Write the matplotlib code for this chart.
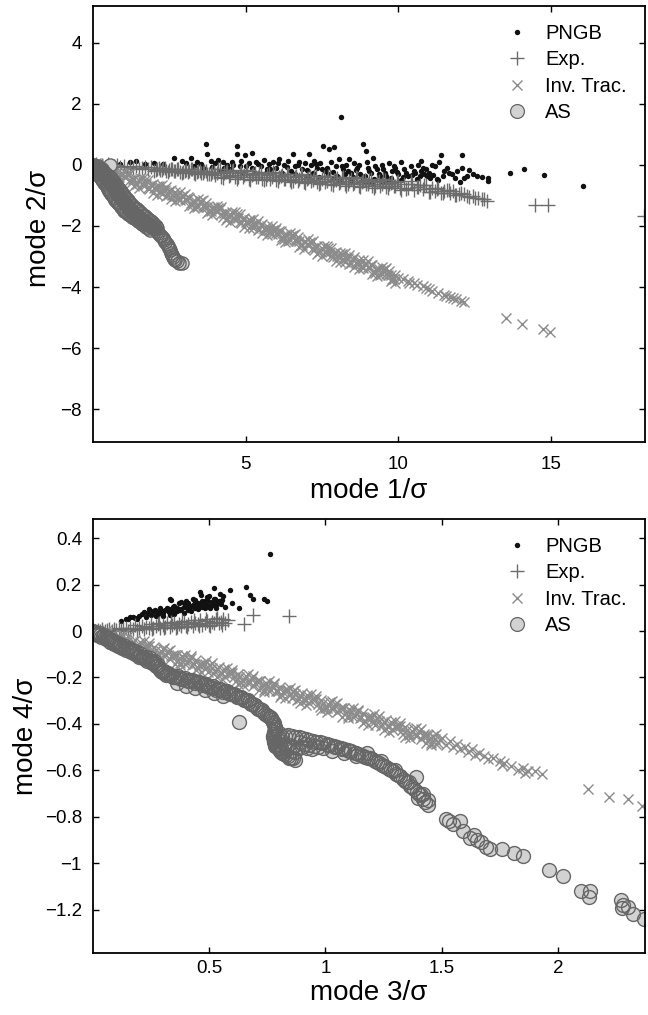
import matplotlib
matplotlib.use("Agg")
import matplotlib.pyplot as plt
from matplotlib.lines import Line2D

plt.rcParams['font.family'] = ['Liberation Sans', 'DejaVu Sans']

# ================= TOP PANEL DATA (mode 1 vs mode 2) =================
pngb1_x = [0.6, 0.9, 1.2, 1.4, 1.7, 2.0, 2.3, 2.66, 2.9, 3.05, 3.21, 3.4, 3.55, 3.70, 3.75, 3.85, 4.0, 4.1,
           4.25, 4.4, 4.55, 4.72, 4.72, 4.85, 4.99, 5.1, 5.22, 5.35, 5.5, 5.6, 5.75, 5.9, 6.0, 6.1, 6.25, 6.4,
           6.54, 6.6, 6.75, 6.85, 6.95, 7.09, 7.15, 7.25, 7.35, 7.45, 7.54, 7.6, 7.73, 7.8, 7.89, 7.95, 8.05,
           8.12, 8.2, 8.3, 8.4, 8.45, 8.55, 8.65, 8.75, 8.85, 8.94, 8.98, 9.05, 9.18, 9.25, 9.35, 9.45, 9.5,
           9.6, 9.7, 9.8, 9.9, 10.0, 10.09, 10.2, 10.3, 10.4, 10.5, 10.55, 10.65, 10.73, 10.8, 10.95, 11.05,
           11.1, 11.2, 11.32, 11.40, 11.5, 11.60, 11.75, 11.91, 12.02, 12.07, 12.07, 12.16, 12.43, 12.59,
           12.95, 12.95, 13.66, 14.12, 14.77, 16.06, 7.2, 7.7, 8.0, 8.5, 8.9, 9.2, 9.65, 10.1, 6.5, 6.2, 5.8,
           5.2, 4.8, 7.5, 8.35, 9.0, 10.6, 11.3, 11.0, 10.85,
           4.3, 4.6, 5.0, 5.4, 5.7, 6.05, 6.35, 6.7, 7.0, 7.3, 7.65, 7.85, 8.15, 8.25, 8.6, 8.7, 8.8, 9.1,
           9.3, 9.4, 9.55, 9.75, 9.85, 9.95, 10.15, 10.25, 10.45, 10.7, 10.75, 10.9, 11.15, 11.25, 11.45,
           11.65, 11.85, 12.25, 12.3, 12.75, 3.3, 3.6, 3.9, 4.15, 4.5, 4.9, 5.3, 5.65, 6.15, 6.6, 7.05, 7.4,
           7.9, 8.1, 8.45, 8.95, 9.15, 9.45]
pngb1_y = [0.05, 0.02, 0.08, 0.12, 0.04, 0.07, 0.02, 0.24, 0.14, 0.05, 0.21, 0.10, 0.03, 0.68, 0.36, 0.12, 0.05,
           0.15, 0.08, -0.02, 0.10, 0.62, 0.35, 0.12, 0.33, 0.05, 0.40, 0.10, -0.05, 0.15, 0.02, 0.08, -0.10,
           0.20, 0.00, 0.12, 0.36, -0.05, 0.10, -0.15, 0.05, 0.36, -0.02, 0.12, -0.10, 0.05, 0.63, -0.20, 0.52,
           0.10, 0.58, -0.05, 0.18, 1.58, -0.15, 0.00, 0.20, -0.25, 0.05, -0.10, -0.30, 0.69, 0.47, 0.10,
           -0.20, 0.21, -0.05, -0.30, 0.00, -0.15, -0.35, 0.05, -0.20, -0.10, -0.30, 0.09, -0.15, -0.35, -0.05,
           -0.21, -0.28, 0.00, 0.14, -0.10, -0.38, -0.42, 0.00, -0.05, 0.08, 0.33, -0.20, -0.11, -0.30, -0.19,
           -0.55, 0.33, -0.09, -0.44, -0.29, -0.35, -0.44, -0.52, -0.25, -0.13, -0.33, -0.69, -0.25, -0.30,
           -0.35, -0.40, -0.35, -0.45, -0.50, -0.50, -0.20, -0.25, -0.15, -0.10, -0.05, -0.15, -0.20, -0.10,
           -0.45, -0.50, -0.25, -0.30,
           -0.10, 0.00, -0.05, 0.02, -0.12, 0.05, -0.08, -0.02, -0.18, 0.02, -0.10, -0.22, -0.05, -0.30, -0.18,
           -0.02, -0.40, -0.28, -0.12, -0.38, -0.25, -0.42, -0.05, -0.22, -0.40, -0.25, -0.32, -0.38, -0.20,
           -0.15, -0.32, -0.45, -0.38, -0.25, -0.42, -0.35, -0.18, -0.40, -0.05, -0.10, -0.08, -0.20, -0.12,
           -0.22, -0.25, -0.28, -0.32, -0.30, -0.35, -0.40, -0.42, -0.50, -0.48, -0.55, -0.60, -0.55]

exp1_x = [0.1, 0.2, 0.3, 0.4, 0.5, 0.6, 0.7, 0.8, 0.9, 1.0, 1.1, 1.2, 1.3, 1.4, 1.5, 1.6, 1.7, 1.8, 1.9, 2.0,
          2.1, 2.2, 2.3, 2.4, 2.5, 2.6, 2.7, 2.8, 2.9, 3.0, 3.1, 3.2, 3.3, 3.4, 3.5, 3.6, 3.7, 3.8, 3.9, 4.0,
          4.1, 4.2, 4.3, 4.4, 4.5, 4.6, 4.7, 4.8, 4.9, 5.0, 5.1, 5.2, 5.3, 5.4, 5.5, 5.6, 5.7, 5.8, 5.9, 6.0,
          6.1, 6.2, 6.3, 6.4, 6.5, 6.6, 6.7, 6.8, 6.9, 7.0, 7.1, 7.2, 7.3, 7.4, 7.5, 7.6, 7.7, 7.8, 7.9, 8.0,
          8.1, 8.2, 8.3, 8.4, 8.5, 8.6, 8.7, 8.8, 8.9, 9.0, 9.1, 9.2, 9.3, 9.4, 9.5, 9.6, 9.7, 9.8, 9.9,
          10.0, 10.1, 10.2, 10.3, 10.4, 10.5, 10.6, 10.7, 10.8, 10.9, 11.0, 11.1, 11.2, 11.3, 11.4, 11.5,
          11.6, 11.7, 11.8, 11.9, 12.0, 12.15, 12.3, 12.45, 12.6, 12.75, 12.9, 14.49, 14.89, 18.05,
          2.05, 2.15, 2.25, 2.35, 2.45, 2.55, 2.65, 2.75, 2.85, 2.95, 3.05, 3.15, 3.25, 3.35, 3.45, 3.55,
          3.65, 3.75, 3.85, 3.95, 4.05, 4.15, 4.25, 4.35, 4.45, 4.55, 4.65, 4.75, 4.85, 4.95, 5.05, 5.15,
          5.25, 5.35, 5.45, 5.55, 5.65, 5.75, 5.85, 5.95, 6.05, 6.15, 6.25, 6.35, 6.45, 6.55, 6.65, 6.75,
          6.85, 6.95, 7.05, 7.15, 7.25, 7.35, 7.45, 7.55, 7.65, 7.75, 7.85, 7.95, 8.05, 8.15, 8.25, 8.35,
          8.45, 8.55, 8.65, 8.75, 8.85, 8.95, 9.05, 9.15, 9.25, 9.35, 9.45, 9.55, 9.65, 9.75, 9.85, 9.95,
          10.05, 10.25, 10.45, 10.65, 10.85, 11.05, 11.25, 11.45, 11.65, 11.85, 12.05, 12.25, 12.5, 12.8]
exp1_y = [0.03, -0.07, -0.01, -0.06, 0.03, -0.09, -0.05, -0.02, -0.08, -0.03, -0.13, -0.07, -0.11, -0.03,
          -0.15, -0.10, -0.08, -0.14, -0.08, -0.19, -0.13, -0.17, -0.09, -0.21, -0.16, -0.14, -0.20, -0.14,
          -0.25, -0.19, -0.23, -0.15, -0.26, -0.22, -0.20, -0.25, -0.20, -0.31, -0.24, -0.34, -0.12, -0.39,
          -0.28, -0.21, -0.33, -0.18, -0.46, -0.28, -0.40, -0.18, -0.45, -0.34, -0.26, -0.39, -0.24, -0.51,
          -0.34, -0.46, -0.23, -0.51, -0.40, -0.32, -0.45, -0.30, -0.57, -0.40, -0.52, -0.29, -0.57, -0.46,
          -0.38, -0.51, -0.35, -0.63, -0.46, -0.57, -0.35, -0.63, -0.51, -0.44, -0.57, -0.41, -0.69, -0.52,
          -0.63, -0.41, -0.69, -0.57, -0.50, -0.63, -0.47, -0.75, -0.57, -0.69, -0.47, -0.74, -0.63, -0.56,
          -0.68, -0.53, -0.81, -0.64, -0.76, -0.54, -0.82, -0.72, -0.65, -0.79, -0.66, -0.88, -0.77, -0.87,
          -0.75, -0.93, -0.86, -0.83, -0.93, -0.85, -0.98, -0.95, -0.94, -1.05, -1.02, -1.10, -1.12, -1.17,
          -1.32, -1.32, -1.68,
          -0.18, -0.10, -0.16, -0.09, -0.23, -0.15, -0.20, -0.13, -0.23, -0.24, -0.16, -0.21, -0.15, -0.29,
          -0.20, -0.26, -0.19, -0.29, -0.30, -0.22, -0.28, -0.14, -0.42, -0.24, -0.35, -0.20, -0.39, -0.41,
          -0.24, -0.34, -0.20, -0.48, -0.30, -0.41, -0.25, -0.45, -0.47, -0.29, -0.40, -0.26, -0.53, -0.36,
          -0.47, -0.31, -0.51, -0.53, -0.35, -0.46, -0.32, -0.59, -0.42, -0.52, -0.37, -0.57, -0.58, -0.41,
          -0.52, -0.37, -0.65, -0.48, -0.58, -0.43, -0.63, -0.64, -0.47, -0.58, -0.43, -0.71, -0.54, -0.64,
          -0.49, -0.69, -0.70, -0.53, -0.63, -0.49, -0.77, -0.59, -0.70, -0.55, -0.75, -0.78, -0.62, -0.74,
          -0.65, -0.89, -0.78, -0.91, -0.83, -0.97, -0.93, -1.03, -1.07, -1.12]

inv1_x = [0.1, 0.2, 0.3, 0.4, 0.5, 0.6, 0.7, 0.8, 0.9, 1.0, 1.1, 1.2, 1.3, 1.4, 1.5, 1.6, 1.7, 1.8, 1.9, 2.0,
          2.1, 2.2, 2.3, 2.4, 2.5, 2.6, 2.7, 2.8, 2.9, 3.0, 3.1, 3.2, 3.3, 3.4, 3.5, 3.6, 3.7, 3.8, 3.9, 4.0,
          4.1, 4.2, 4.3, 4.4, 4.5, 4.6, 4.7, 4.8, 4.9, 5.0, 5.1, 5.2, 5.3, 5.4, 5.5, 5.6, 5.7, 5.8, 5.9, 6.0,
          6.1, 6.2, 6.3, 6.4, 6.5, 6.6, 6.7, 6.8, 6.9, 7.0, 7.1, 7.2, 7.3, 7.4, 7.5, 7.6, 7.7, 7.8, 7.9, 8.0,
          8.1, 8.2, 8.3, 8.4, 8.5, 8.6, 8.7, 8.8, 8.9, 9.0, 9.1, 9.2, 9.3, 9.4, 9.5, 9.6, 9.7, 9.8, 9.9,
          10.0, 10.15, 10.3, 10.35, 10.5, 10.6, 10.8, 10.9, 11.0, 11.1, 11.3, 11.5, 11.55, 11.7, 11.8, 11.9,
          12.05, 12.15, 13.51, 14.05, 14.73, 14.96,
          0.05, 0.15, 0.25, 0.35, 0.45, 0.55, 0.65, 0.75, 0.85, 0.95, 1.05, 1.15, 1.25, 1.35, 1.45, 1.55,
          1.65, 1.75, 1.85, 1.95, 2.05, 2.15, 2.25, 2.35, 2.45, 2.55, 2.65, 2.75, 2.85, 2.95, 3.05, 3.15,
          3.25, 3.35, 3.45, 3.55, 3.65, 3.75, 3.85, 3.95, 4.05, 4.15, 4.25, 4.35, 4.45, 4.55, 4.65, 4.75,
          4.85, 4.95, 5.05, 5.15, 5.25, 5.35, 5.45, 5.55, 5.65, 5.75, 5.85, 5.95, 6.05, 6.15, 6.25, 6.35,
          6.45, 6.55, 6.65, 6.75, 6.85, 6.95, 7.05, 7.15, 7.25, 7.35, 7.45, 7.55, 7.65, 7.75, 7.85, 7.95,
          8.05, 8.15, 8.25, 8.35, 8.45, 8.55, 8.65, 8.75, 8.85, 8.95, 9.05, 9.15, 9.25, 9.35, 9.45, 9.55,
          9.65, 9.75, 9.85,
          0.6, 0.9, 1.2, 1.5, 1.8, 2.1, 2.4, 2.7, 3.0, 3.3, 3.6, 3.9, 4.2, 4.5, 4.8, 5.1, 5.4, 5.7, 6.0,
          6.3, 6.6, 6.9, 7.2, 7.5, 7.8, 8.1, 8.4, 8.7, 9.0, 9.3, 9.6, 9.9,
          0.75, 1.05, 1.35, 1.65, 1.95, 2.25, 2.55, 2.85, 3.15, 3.45, 3.75, 4.05, 4.35, 4.65, 4.95, 5.25,
          5.55, 5.85, 6.15, 6.45, 6.75, 7.05, 7.35, 7.65, 7.95, 8.25, 8.55, 8.85, 9.15, 9.45, 9.75]
inv1_y = [0.06, -0.13, -0.09, -0.27, -0.12, -0.25, -0.14, -0.39, -0.29, -0.38, -0.31, -0.50, -0.46, -0.64,
          -0.49, -0.62, -0.51, -0.76, -0.66, -0.75, -0.68, -0.87, -0.83, -1.01, -0.86, -0.99, -0.88, -1.13,
          -1.03, -1.12, -1.05, -1.24, -1.20, -1.38, -1.23, -1.36, -1.25, -1.50, -1.40, -1.49, -1.42, -1.61,
          -1.57, -1.75, -1.60, -1.73, -1.62, -1.87, -1.77, -1.86, -1.79, -1.98, -1.94, -2.12, -1.97, -2.10,
          -1.99, -2.24, -2.14, -2.23, -2.16, -2.35, -2.31, -2.49, -2.34, -2.47, -2.36, -2.61, -2.51, -2.60,
          -2.53, -2.72, -2.68, -2.86, -2.71, -2.84, -2.73, -2.98, -2.88, -2.97, -2.90, -3.09, -3.05, -3.23,
          -3.08, -3.21, -3.10, -3.35, -3.25, -3.34, -3.27, -3.46, -3.42, -3.60, -3.45, -3.58, -3.47, -3.72,
          -3.62, -3.70, -3.72, -3.80, -3.85, -3.86, -3.93, -3.98, -4.04, -4.06, -4.12, -4.18, -4.27, -4.30,
          -4.33, -4.36, -4.40, -4.44, -4.49, -5.00, -5.20, -5.36, -5.47,
          -0.04, 0.04, -0.21, -0.08, -0.24, -0.07, -0.28, -0.27, -0.41, -0.27, -0.41, -0.33, -0.58, -0.45,
          -0.61, -0.44, -0.65, -0.64, -0.78, -0.64, -0.78, -0.70, -0.95, -0.82, -0.98, -0.81, -1.02, -1.01,
          -1.15, -1.01, -1.15, -1.07, -1.32, -1.19, -1.35, -1.18, -1.39, -1.38, -1.52, -1.38, -1.52, -1.44,
          -1.69, -1.56, -1.72, -1.55, -1.76, -1.75, -1.89, -1.75, -1.89, -1.81, -2.06, -1.93, -2.09, -1.92,
          -2.13, -2.12, -2.26, -2.12, -2.26, -2.18, -2.43, -2.30, -2.46, -2.29, -2.50, -2.49, -2.63, -2.49,
          -2.63, -2.55, -2.80, -2.67, -2.83, -2.66, -2.87, -2.86, -3.00, -2.86, -3.00, -2.92, -3.17, -3.04,
          -3.20, -3.03, -3.24, -3.23, -3.37, -3.23, -3.37, -3.29, -3.54, -3.41, -3.57, -3.40, -3.61, -3.60,
          -3.74,
          -0.05, -0.52, -0.27, -0.75, -0.50, -0.97, -0.72, -1.19, -0.94, -1.41, -1.16, -1.63, -1.38, -1.86,
          -1.61, -2.08, -1.83, -2.30, -2.05, -2.52, -2.27, -2.74, -2.49, -2.97, -2.72, -3.19, -2.94, -3.41,
          -3.16, -3.63, -3.38, -3.85,
          -0.45, -0.22, -0.69, -0.44, -0.91, -0.66, -1.13, -0.88, -1.36, -1.11, -1.58, -1.33, -1.80, -1.55,
          -2.02, -1.77, -2.24, -1.99, -2.47, -2.22, -2.69, -2.44, -2.91, -2.66, -3.13, -2.88, -3.35, -3.10,
          -3.58, -3.33, -3.80]

as1_x = [0.00, 0.04, 0.08, 0.12, 0.16, 0.20, 0.24, 0.28, 0.32, 0.36, 0.40, 0.44, 0.48, 0.52, 0.56, 0.60,
         0.63, 0.67, 0.71, 0.74, 0.78, 0.81, 0.85, 0.89, 0.93, 0.97, 1.01, 1.05, 1.10, 1.14, 1.19, 1.23,
         1.28, 1.33, 1.38, 1.43, 1.48, 1.54, 1.60, 1.66, 1.72, 1.78, 1.84, 1.90, 1.96, 2.02,
         0.02, 0.06, 0.10, 0.14, 0.18, 0.22, 0.26, 0.30, 0.34, 0.38, 0.42, 0.46, 0.50, 0.54, 0.58, 0.615,
         0.65, 0.69, 0.725, 0.76, 0.795, 0.83, 0.87, 0.91, 0.95, 0.99, 1.03, 1.075, 1.12, 1.165, 1.21,
         1.255, 1.305, 1.355, 1.405, 1.455, 1.51, 1.57, 1.63, 1.69, 1.75, 1.81, 1.87, 1.93, 1.99,
         0.05, 0.13, 0.21, 0.29, 0.37, 0.45, 0.52, 0.60, 0.68, 0.77, 0.87, 0.97, 1.08, 1.20, 1.33, 1.46,
         1.60, 1.74, 1.88,
         0.09, 0.17, 0.25, 0.33, 0.41, 0.485, 0.56, 0.64, 0.725, 0.82, 0.92, 1.025, 1.14, 1.265, 1.395,
         1.53, 1.67, 1.81,
         0.16, 0.28, 0.40, 0.52, 0.63, 0.73, 0.83, 0.93, 1.03, 1.14, 1.25, 1.37, 1.50, 1.63, 1.76, 1.89,
         2.01, 2.10,
         0.22, 0.34, 0.46, 0.575, 0.68, 0.78, 0.88, 0.98, 1.085, 1.195, 1.31, 1.435, 1.565, 1.695, 1.825,
         1.95, 2.055,
         2.08, 2.14, 2.19, 2.24, 2.28, 2.33, 2.37, 2.41, 2.45, 2.49, 2.52, 2.55, 2.58, 2.61, 2.65, 2.70,
         2.76, 2.83, 2.90, 0.55]
as1_y = [0.00, -0.03, -0.07, -0.10, -0.14, -0.18, -0.22, -0.27, -0.31, -0.36, -0.40, -0.44, -0.48, -0.52,
         -0.56, -0.61, -0.66, -0.72, -0.78, -0.84, -0.90, -0.95, -1.00, -1.05, -1.10, -1.15, -1.20, -1.25,
         -1.31, -1.37, -1.43, -1.48, -1.54, -1.59, -1.64, -1.68, -1.72, -1.76, -1.80, -1.84, -1.88, -1.92,
         -1.97, -2.01, -2.06, -2.10,
         -0.015, -0.05, -0.085, -0.12, -0.16, -0.20, -0.245, -0.29, -0.335, -0.38, -0.42, -0.46, -0.50,
         -0.54, -0.585, -0.635, -0.69, -0.75, -0.81, -0.87, -0.925, -0.975, -1.025, -1.075, -1.125, -1.175,
         -1.225, -1.28, -1.34, -1.40, -1.455, -1.51, -1.565, -1.615, -1.66, -1.70, -1.74, -1.78, -1.82,
         -1.86, -1.90, -1.945, -1.99, -2.035, -2.08,
         -0.12, -0.24, -0.36, -0.48, -0.60, -0.72, -0.84, -0.96, -1.08, -1.20, -1.32, -1.44, -1.55, -1.65,
         -1.74, -1.83, -1.93, -2.03, -2.12,
         -0.18, -0.30, -0.42, -0.54, -0.66, -0.78, -0.90, -1.02, -1.14, -1.26, -1.38, -1.495, -1.60, -1.695,
         -1.785, -1.88, -1.98, -2.075,
         -0.04, -0.14, -0.26, -0.38, -0.50, -0.63, -0.76, -0.89, -1.02, -1.15, -1.28, -1.40, -1.52, -1.63,
         -1.74, -1.85, -1.96, -2.06,
         -0.09, -0.20, -0.32, -0.44, -0.565, -0.695, -0.825, -0.955, -1.085, -1.215, -1.34, -1.46, -1.575,
         -1.685, -1.795, -1.905, -2.01,
         -2.16, -2.22, -2.28, -2.34, -2.40, -2.46, -2.52, -2.59, -2.66, -2.73, -2.80, -2.87, -2.94, -3.01,
         -3.07, -3.12, -3.16, -3.20, -3.22, -0.02]

# ================= BOTTOM PANEL DATA (mode 3 vs mode 4) =================
pngb2_x = [0.12, 0.15, 0.16, 0.18, 0.2, 0.22, 0.23, 0.25, 0.26, 0.28, 0.29, 0.3, 0.31, 0.33, 0.335, 0.34,
           0.35, 0.36, 0.37, 0.38, 0.39, 0.4, 0.41, 0.42, 0.43, 0.44, 0.45, 0.46, 0.465, 0.47, 0.48, 0.49,
           0.5, 0.51, 0.52, 0.52, 0.53, 0.54, 0.55, 0.56, 0.57, 0.59, 0.6, 0.63, 0.66, 0.675, 0.69, 0.735,
           0.75, 0.76, 0.24, 0.27, 0.32, 0.35, 0.38, 0.41, 0.44, 0.47, 0.5, 0.53, 0.545, 0.48, 0.45, 0.42,
           0.39, 0.36, 0.33, 0.30, 0.27, 0.19,
           0.14, 0.17, 0.21, 0.235, 0.265, 0.295, 0.325, 0.345, 0.375, 0.395, 0.415, 0.435, 0.455, 0.475,
           0.495, 0.515, 0.535, 0.555, 0.505, 0.525, 0.485, 0.445, 0.405, 0.365, 0.325, 0.285]
pngb2_y = [0.045, 0.050, 0.059, 0.055, 0.065, 0.083, 0.060, 0.070, 0.085, 0.075, 0.100, 0.080, 0.090, 0.138,
           0.134, 0.090, 0.110, 0.085, 0.120, 0.095, 0.105, 0.130, 0.090, 0.110, 0.140, 0.100, 0.120, 0.170,
           0.155, 0.105, 0.130, 0.145, 0.110, 0.125, 0.185, 0.140, 0.100, 0.130, 0.115, 0.150, 0.105, 0.177,
           0.120, 0.100, 0.190, 0.155, 0.140, 0.140, 0.130, 0.330, 0.095, 0.065, 0.100, 0.075, 0.125, 0.120,
           0.135, 0.130, 0.150, 0.120, 0.160, 0.100, 0.095, 0.085, 0.080, 0.100, 0.070, 0.065, 0.070, 0.050,
           0.052, 0.062, 0.072, 0.078, 0.090, 0.088, 0.095, 0.105, 0.090, 0.115, 0.100, 0.118, 0.108, 0.118,
           0.128, 0.112, 0.118, 0.135, 0.100, 0.138, 0.112, 0.112, 0.100, 0.094, 0.082, 0.082]

exp2_x = [0.00, 0.01, 0.02, 0.03, 0.04, 0.05, 0.06, 0.07, 0.08, 0.09, 0.10, 0.11, 0.12, 0.13, 0.14, 0.15,
          0.16, 0.17, 0.18, 0.19, 0.20, 0.21, 0.22, 0.23, 0.24, 0.25, 0.26, 0.27, 0.28, 0.29, 0.30, 0.31,
          0.32, 0.33, 0.34, 0.35, 0.36, 0.37, 0.38, 0.39, 0.40, 0.41, 0.42, 0.43, 0.44, 0.45, 0.46, 0.47,
          0.48, 0.49, 0.50, 0.51, 0.52, 0.53, 0.54, 0.55, 0.56, 0.57, 0.58, 0.65, 0.69, 0.843,
          0.255, 0.305, 0.355, 0.405, 0.455, 0.505, 0.555, 0.285, 0.335, 0.385, 0.435, 0.485, 0.535]
exp2_y = [0.004, -0.004, 0.003, 0.000, 0.009, 0.000, 0.005, 0.009, 0.001, 0.008, 0.005, 0.014, 0.005, 0.010,
          0.015, 0.001, 0.014, 0.008, 0.025, 0.006, 0.015, 0.024, 0.007, 0.019, 0.013, 0.030, 0.012, 0.020,
          0.029, 0.012, 0.025, 0.018, 0.035, 0.017, 0.026, 0.034, 0.017, 0.030, 0.024, 0.040, 0.022, 0.031,
          0.040, 0.022, 0.035, 0.029, 0.046, 0.027, 0.036, 0.045, 0.028, 0.040, 0.034, 0.051, 0.033, 0.041,
          0.050, 0.033, 0.046, 0.029, 0.069, 0.066,
          0.008, 0.012, 0.014, 0.016, 0.020, 0.022, 0.026, 0.036, 0.040, 0.045, 0.048, 0.052, 0.055]

inv2_x = [0.000, 0.015, 0.030, 0.045, 0.060, 0.075, 0.090, 0.105, 0.120, 0.135, 0.150, 0.165, 0.180, 0.195,
          0.210, 0.225, 0.240, 0.255, 0.270, 0.285, 0.300, 0.315, 0.330, 0.345, 0.360, 0.375, 0.390, 0.405,
          0.420, 0.435, 0.450, 0.465, 0.480, 0.495, 0.510, 0.525, 0.540, 0.555, 0.570, 0.585, 0.600, 0.615,
          0.630, 0.645, 0.660, 0.675, 0.690, 0.705, 0.720, 0.735, 0.750, 0.765, 0.780, 0.795, 0.810, 0.825,
          0.840, 0.855, 0.870, 0.885, 0.900, 0.915, 0.930, 0.945, 0.960, 0.975, 0.990, 1.005, 1.020, 1.035,
          1.050, 1.065, 1.080, 1.095, 1.110, 1.125, 1.140, 1.155, 1.170, 1.185, 1.200, 1.215, 1.230, 1.245,
          1.260, 1.275, 1.290, 1.305, 1.320, 1.335, 1.350, 1.365, 1.380, 1.395, 1.410, 1.425, 1.440, 1.455,
          1.470, 1.485, 1.500, 1.52, 1.535, 1.55, 1.565, 1.58, 1.60, 1.615, 1.63, 1.645, 1.66, 1.68, 1.70,
          1.72, 1.75, 1.76, 1.77, 1.80, 1.83, 1.85, 1.86, 1.87, 1.90, 1.93, 2.13, 2.22, 2.30, 2.36,
          0.0075, 0.0225, 0.0375, 0.0525, 0.0675, 0.0825, 0.0975, 0.1125, 0.1275, 0.1425, 0.1575, 0.1725,
          0.1875, 0.2025, 0.2175, 0.2325, 0.2475, 0.2625, 0.2775, 0.2925, 0.3075, 0.3225, 0.3375, 0.3525,
          0.3675, 0.3825, 0.3975, 0.4125, 0.4275, 0.4425, 0.4575, 0.4725, 0.4875, 0.5025, 0.5175, 0.5325,
          0.5475, 0.5625, 0.5775, 0.5925, 0.6075, 0.6225, 0.6375, 0.6525, 0.6675, 0.6825, 0.6975, 0.7125,
          0.7275, 0.7425, 0.7575, 0.7725, 0.7875, 0.8025, 0.8175, 0.8325, 0.8475, 0.8625, 0.8775, 0.8925,
          0.9075, 0.9225, 0.9375, 0.9525, 0.9675, 0.9825, 0.9975, 1.0125, 1.0275, 1.0425, 1.0575, 1.0725,
          1.0875, 1.1025, 1.1175, 1.1325, 1.1475, 1.1625, 1.1775, 1.1925, 1.2075, 1.2225, 1.2375, 1.2525,
          1.2675, 1.2825, 1.2975, 1.3125, 1.3275, 1.3425, 1.3575, 1.3725, 1.3875, 1.4025, 1.4175, 1.4325,
          1.4475, 1.4625, 1.4775, 1.4925,
          0.060, 0.105, 0.150, 0.195, 0.240, 0.285, 0.330, 0.375, 0.420, 0.465, 0.510, 0.555, 0.600, 0.645,
          0.690, 0.735, 0.780, 0.825, 0.870, 0.915, 0.960, 1.005, 1.050, 1.095, 1.140, 1.185, 1.230, 1.275,
          1.320, 1.365, 1.410, 1.455,
          0.0825, 0.1275, 0.1725, 0.2175, 0.2625, 0.3075, 0.3525, 0.3975, 0.4425, 0.4875, 0.5325, 0.5775,
          0.6225, 0.6675, 0.7125, 0.7575, 0.8025, 0.8475, 0.8925, 0.9375, 0.9825, 1.0275, 1.0725, 1.1175,
          1.1625, 1.2075, 1.2525, 1.2975, 1.3425, 1.3875, 1.4325, 1.4775]
inv2_y = [0.006, -0.014, -0.008, -0.019, -0.010, -0.026, -0.037, -0.029, -0.032, -0.052, -0.044, -0.062,
          -0.039, -0.066, -0.083, -0.064, -0.064, -0.099, -0.082, -0.101, -0.077, -0.104, -0.121, -0.102,
          -0.102, -0.137, -0.120, -0.139, -0.116, -0.142, -0.159, -0.140, -0.141, -0.175, -0.158, -0.177,
          -0.154, -0.181, -0.197, -0.178, -0.179, -0.214, -0.196, -0.215, -0.192, -0.219, -0.235, -0.216,
          -0.217, -0.252, -0.235, -0.253, -0.230, -0.257, -0.274, -0.254, -0.255, -0.290, -0.273, -0.291,
          -0.268, -0.295, -0.312, -0.293, -0.293, -0.328, -0.311, -0.330, -0.306, -0.333, -0.350, -0.331,
          -0.331, -0.366, -0.349, -0.368, -0.345, -0.371, -0.388, -0.369, -0.370, -0.404, -0.387, -0.406,
          -0.383, -0.409, -0.426, -0.407, -0.408, -0.443, -0.425, -0.444, -0.421, -0.448, -0.464, -0.445,
          -0.446, -0.481, -0.464, -0.482, -0.459, -0.490, -0.475, -0.500, -0.485, -0.510, -0.500, -0.520,
          -0.510, -0.535, -0.525, -0.540, -0.550, -0.545, -0.560, -0.575, -0.570, -0.580, -0.600, -0.590,
          -0.610, -0.605, -0.605, -0.615, -0.680, -0.717, -0.725, -0.754,
          -0.005, 0.000, -0.020, -0.014, -0.026, -0.018, -0.032, -0.031, -0.044, -0.038, -0.066, -0.049,
          -0.070, -0.048, -0.071, -0.064, -0.085, -0.070, -0.104, -0.087, -0.108, -0.087, -0.109, -0.102,
          -0.123, -0.108, -0.142, -0.125, -0.146, -0.125, -0.147, -0.140, -0.161, -0.146, -0.181, -0.163,
          -0.184, -0.163, -0.186, -0.178, -0.199, -0.184, -0.219, -0.202, -0.222, -0.201, -0.224, -0.217,
          -0.237, -0.222, -0.257, -0.240, -0.260, -0.239, -0.262, -0.255, -0.276, -0.260, -0.295, -0.278,
          -0.299, -0.277, -0.300, -0.293, -0.314, -0.298, -0.333, -0.316, -0.337, -0.316, -0.338, -0.331,
          -0.352, -0.337, -0.371, -0.354, -0.375, -0.354, -0.376, -0.369, -0.390, -0.375, -0.410, -0.392,
          -0.413, -0.392, -0.415, -0.407, -0.428, -0.413, -0.448, -0.430, -0.451, -0.430, -0.453, -0.446,
          -0.466, -0.451, -0.486, -0.469,
          0.006, -0.061, -0.023, -0.090, -0.051, -0.119, -0.080, -0.147, -0.109, -0.176, -0.137, -0.205,
          -0.166, -0.233, -0.194, -0.262, -0.223, -0.290, -0.252, -0.319, -0.280, -0.348, -0.309, -0.376,
          -0.338, -0.405, -0.366, -0.434, -0.395, -0.462, -0.423, -0.491,
          -0.054, -0.016, -0.083, -0.044, -0.111, -0.073, -0.140, -0.101, -0.169, -0.130, -0.197, -0.159,
          -0.226, -0.187, -0.255, -0.216, -0.283, -0.245, -0.312, -0.273, -0.340, -0.302, -0.369, -0.330,
          -0.398, -0.359, -0.426, -0.388, -0.455, -0.416, -0.484, -0.445]

as2_x = [0.000, 0.010, 0.018, 0.028, 0.036, 0.046, 0.054, 0.064, 0.072, 0.082, 0.090, 0.100, 0.108, 0.118,
         0.126, 0.136, 0.144, 0.154, 0.162, 0.172, 0.180, 0.190, 0.198, 0.208, 0.216, 0.226, 0.234, 0.244,
         0.252, 0.262, 0.270, 0.280, 0.288, 0.296, 0.305, 0.312, 0.322,
         0.005, 0.014, 0.023, 0.032, 0.041, 0.050, 0.059, 0.068, 0.077, 0.086, 0.095, 0.104, 0.113, 0.122,
         0.131, 0.140, 0.149, 0.158, 0.167, 0.176, 0.185, 0.194, 0.203, 0.212, 0.221, 0.230, 0.239, 0.248,
         0.257, 0.266, 0.275, 0.284, 0.292, 0.300, 0.309, 0.317, 0.328,
         0.335, 0.350, 0.365, 0.380, 0.395, 0.410, 0.425, 0.440, 0.455, 0.470, 0.485, 0.500, 0.515, 0.530,
         0.545, 0.560, 0.575, 0.590, 0.605, 0.620, 0.635, 0.650, 0.665, 0.680, 0.695, 0.710, 0.725, 0.740,
         0.755, 0.36, 0.40, 0.44, 0.48, 0.52, 0.56,
         0.3425, 0.3575, 0.3725, 0.3875, 0.4025, 0.4175, 0.4325, 0.4475, 0.4625, 0.4775, 0.4925, 0.5075,
         0.5225, 0.5375, 0.5525, 0.5675, 0.5825, 0.5975, 0.6125, 0.6275, 0.6425, 0.6575, 0.6725, 0.6875,
         0.7025, 0.7175, 0.7325, 0.7475, 0.760,
         0.765, 0.775, 0.780, 0.785, 0.780, 0.775, 0.778, 0.780, 0.785, 0.795, 0.805, 0.815, 0.830, 0.845,
         0.860, 0.795, 0.805, 0.815, 0.825, 0.840, 0.855, 0.870, 0.885, 0.900, 0.915, 0.930, 0.945, 0.960,
         0.975, 0.990, 0.80, 0.82, 0.84, 0.86, 0.88, 0.90, 0.92, 0.94, 0.81, 0.83, 0.85, 0.87, 0.89, 0.91,
         0.93, 0.95, 0.97, 0.99, 0.80, 0.79,
         0.770, 0.778, 0.783, 0.783, 0.778, 0.776, 0.779, 0.782, 0.790, 0.800, 0.810, 0.822, 0.838, 0.852,
         1.005, 1.020, 1.035, 1.050, 1.065, 1.080, 1.095, 1.110, 1.125, 1.140, 1.155, 1.170, 1.185, 1.200,
         1.215, 1.230, 1.245, 1.260, 1.275, 1.290, 1.305, 1.320, 1.335, 1.350, 1.365, 1.380, 1.395, 1.410,
         1.420, 1.430, 1.440, 1.03, 1.08, 1.13, 1.18, 1.24, 1.30, 1.36, 1.40, 1.42, 1.44,
         1.0125, 1.0425, 1.0725, 1.1025, 1.1325, 1.1625, 1.1925, 1.2225, 1.2525, 1.2825, 1.3125, 1.3425,
         1.3725, 1.4025,
         0.63, 1.39, 0.87,
         1.52, 1.53, 1.55, 1.58, 1.59, 1.62, 1.64, 1.65, 1.67, 1.69, 1.71, 1.76, 1.81, 1.85, 1.96, 2.02,
         2.10, 2.14, 2.135, 2.27, 2.28, 2.275, 2.30, 2.325, 2.37]
as2_y = [0.000, -0.004, -0.016, -0.010, -0.026, -0.018, -0.036, -0.028, -0.046, -0.038, -0.056, -0.046,
         -0.064, -0.056, -0.074, -0.064, -0.082, -0.074, -0.092, -0.082, -0.100, -0.092, -0.110, -0.100,
         -0.118, -0.110, -0.128, -0.118, -0.138, -0.128, -0.150, -0.148, -0.168, -0.178, -0.170, -0.190,
         -0.182,
         -0.008, -0.008, -0.014, -0.018, -0.022, -0.027, -0.031, -0.036, -0.041, -0.046, -0.051, -0.055,
         -0.060, -0.065, -0.070, -0.074, -0.079, -0.084, -0.088, -0.092, -0.097, -0.102, -0.106, -0.110,
         -0.115, -0.120, -0.124, -0.128, -0.134, -0.140, -0.150, -0.158, -0.170, -0.176, -0.182, -0.186,
         -0.190,
         -0.190, -0.200, -0.195, -0.208, -0.202, -0.215, -0.210, -0.222, -0.218, -0.232, -0.228, -0.242,
         -0.238, -0.252, -0.248, -0.262, -0.258, -0.272, -0.270, -0.284, -0.282, -0.298, -0.298, -0.315,
         -0.318, -0.335, -0.340, -0.358, -0.365, -0.225, -0.235, -0.245, -0.255, -0.268, -0.280,
         -0.196, -0.198, -0.202, -0.205, -0.210, -0.213, -0.217, -0.220, -0.225, -0.230, -0.235, -0.240,
         -0.245, -0.250, -0.255, -0.260, -0.265, -0.271, -0.277, -0.283, -0.290, -0.298, -0.306, -0.316,
         -0.326, -0.337, -0.349, -0.361, -0.370,
         -0.375, -0.390, -0.405, -0.420, -0.435, -0.450, -0.465, -0.480, -0.495, -0.505, -0.515, -0.525,
         -0.532, -0.545, -0.548, -0.470, -0.460, -0.455, -0.450, -0.448, -0.452, -0.455, -0.458, -0.462,
         -0.466, -0.470, -0.474, -0.478, -0.480, -0.484, -0.490, -0.485, -0.490, -0.500, -0.505, -0.500,
         -0.505, -0.510, -0.505, -0.510, -0.515, -0.520, -0.480, -0.485, -0.490, -0.495, -0.500, -0.505,
         -0.440, -0.450,
         -0.383, -0.398, -0.413, -0.428, -0.443, -0.458, -0.473, -0.488, -0.500, -0.510, -0.520, -0.528,
         -0.538, -0.546,
         -0.488, -0.492, -0.497, -0.500, -0.505, -0.508, -0.514, -0.518, -0.524, -0.530, -0.536, -0.541,
         -0.546, -0.552, -0.560, -0.568, -0.576, -0.585, -0.594, -0.604, -0.614, -0.626, -0.638, -0.652,
         -0.666, -0.680, -0.694, -0.708, -0.722, -0.736, -0.748, -0.515, -0.525, -0.540, -0.525, -0.560,
         -0.600, -0.650, -0.720, -0.700, -0.730,
         -0.490, -0.498, -0.506, -0.516, -0.527, -0.538, -0.549, -0.564, -0.580, -0.599, -0.620, -0.645,
         -0.673, -0.701,
         -0.390, -0.630, -0.555,
         -0.810, -0.820, -0.830, -0.820, -0.860, -0.890, -0.880, -0.900, -0.910, -0.930, -0.940, -0.940,
         -0.955, -0.970, -1.030, -1.056, -1.120, -1.120, -1.145, -1.160, -1.180, -1.195, -1.190, -1.217,
         -1.240]

labels = ['PNGB', 'Exp.', 'Inv. Trac.', 'AS']
x1_ticks = [5, 10, 15]
y1_ticks = [-8, -6, -4, -2, 0, 2, 4]
x2_ticks = [0.5, 1, 1.5, 2]
y2_ticks = [-1.2, -1, -0.8, -0.6, -0.4, -0.2, 0, 0.2, 0.4]

# ================= styling =================
c_pngb = '#111111'
c_exp = '#6c6c6c'
c_inv = '#8c8c8c'
c_as_face = '#d2d2d2'
c_as_edge = '#666666'


def fmt(v):
    return ('%g' % v).replace('-', '\u2212')


fig = plt.figure(figsize=(6.48, 10.15), dpi=100)
ax1 = fig.add_axes([0.1435, 0.5645, 0.852, 0.4296])
ax2 = fig.add_axes([0.1435, 0.0611, 0.852, 0.4276])


def draw(ax, px, py, ex, ey, ix, iy, ax_, ay_, as_ms):
    h1, = ax.plot(px, py, linestyle='none', marker='o', ms=3.9, mew=0, color=c_pngb)
    h2, = ax.plot(ex, ey, linestyle='none', marker='+', ms=9.5, mew=1.0, color=c_exp)
    h3, = ax.plot(ix, iy, linestyle='none', marker='x', ms=7.5, mew=1.0, color=c_inv)
    # circles: all faces first, then all edges on top
    ax.plot(ax_, ay_, linestyle='none', marker='o', ms=as_ms, mew=0, mfc=c_as_face, mec='none')
    ax.plot(ax_, ay_, linestyle='none', marker='o', ms=as_ms, mew=1.0, mfc='none', mec=c_as_edge)
    h4 = Line2D([], [], linestyle='none', marker='o', ms=10, mew=0.9, mfc=c_as_face, mec=c_as_edge)
    ax.tick_params(direction='in', top=True, right=True, length=4, width=1.0, labelsize=13.5)
    ax.tick_params(axis='y', pad=8)
    for s in ax.spines.values():
        s.set_linewidth(1.3)
    ax.legend([h1, h2, h3, h4], labels, loc='upper right', frameon=False, fontsize=14.5,
              handlelength=1.0, handletextpad=0.9, labelspacing=0.36, borderaxespad=0.5, borderpad=0.4)


draw(ax1, pngb1_x, pngb1_y, exp1_x, exp1_y, inv1_x, inv1_y, as1_x, as1_y, 9.5)
draw(ax2, pngb2_x, pngb2_y, exp2_x, exp2_y, inv2_x, inv2_y, as2_x, as2_y, 10)

ax1.set_xlim(0, 18.08)
ax1.set_ylim(-9.07, 5.2)
ax1.set_xticks(x1_ticks)
ax1.set_xticklabels([fmt(v) for v in x1_ticks])
ax1.set_yticks(y1_ticks)
ax1.set_yticklabels([fmt(v) for v in y1_ticks])
ax1.tick_params(axis='x', pad=10)
ax1.set_xlabel('mode 1/\u03c3', fontsize=20)
ax1.set_ylabel('mode 2/\u03c3', fontsize=20)
ax1.xaxis.set_label_coords(0.5, -0.082)
ax1.yaxis.set_label_coords(-0.075, 0.49)

ax2.set_xlim(0, 2.375)
ax2.set_ylim(-1.387, 0.483)
ax2.set_xticks(x2_ticks)
ax2.set_xticklabels([fmt(v) for v in x2_ticks])
ax2.set_yticks(y2_ticks)
ax2.set_yticklabels([fmt(v) for v in y2_ticks])
ax2.tick_params(axis='x', pad=5)
ax2.set_xlabel('mode 3/\u03c3', fontsize=20)
ax2.set_ylabel('mode 4/\u03c3', fontsize=20)
ax2.xaxis.set_label_coords(0.5, -0.062)
ax2.yaxis.set_label_coords(-0.097, 0.5)

fig.savefig('out.png', dpi=100)
